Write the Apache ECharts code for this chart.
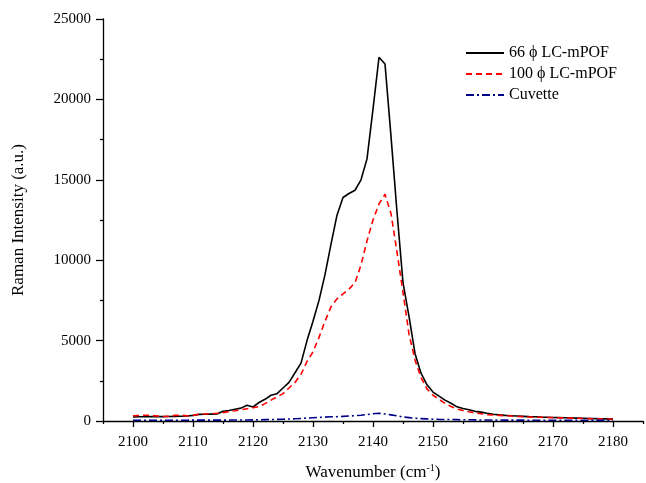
<!DOCTYPE html>
<html>
<head>
<meta charset="utf-8">
<script src="https://cdn.jsdelivr.net/npm/echarts@6/dist/echarts.min.js"></script>
<style>html,body{margin:0;padding:0;background:#fff}#c{width:646px;height:483px}</style>
</head>
<body>
<div id="c"></div>
<script>
// Wavenumbers (cm-1)
var wavenumbers = [];
for (var w = 2100; w <= 2180; w++) wavenumbers.push(w);

var seriesNames = ['66 \u03D5 LC-mPOF', '100 \u03D5 LC-mPOF', 'Cuvette'];

var lc66 = [250,260,260,270,270,270,280,290,300,310,
  350,410,420,430,440,600,650,730,800,980,
  870,1150,1350,1600,1700,2050,2400,3000,3600,5000,
  6200,7500,9100,11000,12800,13900,14150,14350,15000,16300,
  19400,22620,22200,17700,13000,8600,6500,4200,2970,2250,
  1800,1550,1300,1100,880,780,700,600,550,480,
  420,380,350,330,310,290,270,260,240,230,
  220,210,200,190,180,170,160,150,140,130,120];

var lc100 = [330,340,360,350,310,280,300,350,360,320,
  350,420,440,460,480,520,590,640,700,760,
  820,900,1080,1300,1500,1700,2050,2400,2900,3700,
  4300,5200,6200,7100,7600,7900,8200,8600,9700,11200,
  12500,13500,14100,12900,10500,8000,5400,3800,2700,2000,
  1600,1350,1100,900,750,650,570,500,450,400,
  370,350,330,310,290,270,250,240,230,220,
  210,200,190,180,170,160,150,140,130,120,110];

var cuvette = [50,50,50,50,50,50,50,50,50,50,
  55,55,55,55,55,55,58,60,62,65,
  70,75,85,95,100,110,125,140,160,180,
  200,220,240,260,270,290,310,330,360,400,
  450,480,440,380,320,250,210,170,150,130,
  110,100,95,90,85,80,75,70,65,62,
  60,58,56,55,54,52,50,50,48,48,
  46,45,45,44,43,42,42,41,40,40,40];

var xLabelVals = [2100,2110,2120,2130,2140,2150,2160,2170,2180];
var xMinorVals = [2095,2105,2115,2125,2135,2145,2155,2165,2175,2185];

function pairs(arr){ return wavenumbers.map(function(x,i){ return [x, arr[i]]; }); }

var font = 'Liberation Serif';
var chart = echarts.init(document.getElementById('c'), null, {renderer:'canvas'});
chart.setOption({
  animation: false,
  backgroundColor: '#fff',
  textStyle: {fontFamily: font},
  grid: {left: 103, right: 3, top: 19, bottom: 62, containLabel: false, outerBoundsMode: 'none'},
  legend: {
    orient: 'vertical', left: 460, top: 40,
    itemWidth: 38, itemHeight: 14, itemGap: 5,
    itemStyle: {color: 'transparent', borderWidth: 0, borderColor: 'transparent'},
    textStyle: {fontFamily: font, fontSize: 16, color: '#000'},
    data: seriesNames
  },
  xAxis: [{
    type: 'value', min: 2095, max: 2185,
    name: '{n|Wavenumber (cm}{s|-1}{n|)}',
    nameLocation: 'middle', nameGap: 42,
    nameTextStyle: {rich: {
      n: {fontFamily: font, fontSize: 17, color: '#000'},
      s: {fontFamily: font, fontSize: 10, color: '#000', verticalAlign: 'top', padding: [0,0,10,0]}
    }},
    axisLine: {onZero: false, lineStyle: {color: '#000', width: 1.3}},
    axisTick: {show: true, inside: false, length: 6, customValues: xLabelVals, lineStyle: {color: '#000', width: 1.3}},
    axisLabel: {customValues: xLabelVals, margin: 14, fontFamily: font, fontSize: 15, color: '#000',
      formatter: function(v){ return String(v); }},
    splitLine: {show: false}
  }, {
    type: 'value', min: 2095, max: 2185, position: 'bottom',
    axisLine: {show: false},
    axisTick: {show: true, inside: false, length: 3, customValues: xMinorVals, lineStyle: {color: '#000', width: 1.3}},
    axisLabel: {show: false},
    splitLine: {show: false}
  }],
  yAxis: {
    type: 'value', min: 0, max: 25000, interval: 5000,
    name: 'Raman Intensity (a.u.)',
    nameLocation: 'middle', nameGap: 76, nameRotate: 90,
    nameTextStyle: {fontFamily: font, fontSize: 17, color: '#000'},
    axisLine: {show: true, lineStyle: {color: '#000', width: 1.3}},
    axisTick: {show: true, inside: false, length: 7, lineStyle: {color: '#000', width: 1.3}},
    minorTick: {show: true, splitNumber: 2, length: 3, lineStyle: {color: '#000', width: 1.3}},
    axisLabel: {margin: 12, fontFamily: font, fontSize: 15, color: '#000',
      formatter: function(v){ return String(v); }},
    splitLine: {show: false}
  },
  series: [{
    name: seriesNames[0], type: 'line', data: pairs(lc66), symbol: 'none',
    lineStyle: {color: '#000', width: 1.6}, itemStyle: {color: '#000'}
  }, {
    name: seriesNames[1], type: 'line', data: pairs(lc100), symbol: 'none',
    lineStyle: {color: '#ff0000', width: 1.6, type: [6,4]}, itemStyle: {color: '#ff0000'}
  }, {
    name: seriesNames[2], type: 'line', data: pairs(cuvette), symbol: 'none',
    lineStyle: {color: '#00008b', width: 1.6, type: [8,3,2,3]}, itemStyle: {color: '#00008b'}
  }]
});
</script>
</body>
</html>
